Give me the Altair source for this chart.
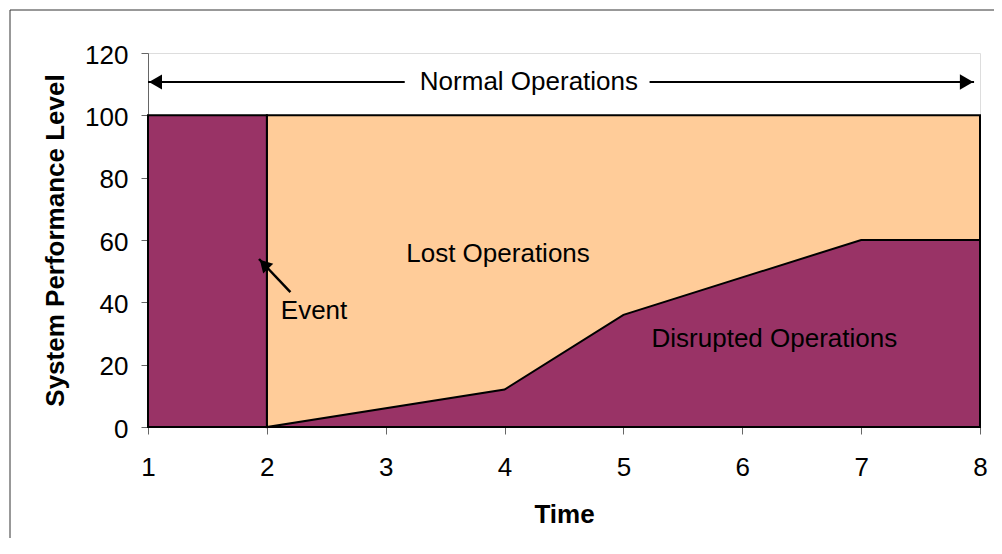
import altair as alt
import pandas as pd

# ---- data ----
time_disrupted = [1, 2, 2, 4, 5, 7, 8]
perf_disrupted = [100, 100, 0, 12, 36, 60, 60]
time_normal = [2, 8]
perf_normal = [100, 100]
x_ticks = [1, 2, 3, 4, 5, 6, 7, 8]
y_ticks = [0, 20, 40, 60, 80, 100, 120]

label_text = ["Normal Operations", "Lost Operations", "Disrupted Operations", "Event"]
label_x = [4.205, 3.945, 6.27, 2.397]
label_y = [108.1, 53.0, 25.8, 34.6]

# annotation arrows (data units)
normal_seg_x = [1.0, 5.22]
normal_seg_x2 = [3.16, 7.95]
normal_seg_y = [110.7, 110.7]
event_tail = (2.198, 43.3)
event_tip = (1.934, 53.9)

FONT = "Liberation Sans"
PURPLE = "#993366"
PEACH = "#FFCC99"
AXIS_GREY = "#666666"

x_scale = alt.Scale(domain=[1, 8], nice=False, zero=False)
y_scale = alt.Scale(domain=[0, 120], nice=False, zero=False)

df_dis = pd.DataFrame({"t": time_disrupted, "v": perf_disrupted})
df_lost = pd.DataFrame({"t": time_normal, "v": perf_normal})
df_lbl = pd.DataFrame({"t": label_x, "v": label_y, "txt": label_text})
df_seg = pd.DataFrame({"t": normal_seg_x, "t2": normal_seg_x2, "v": normal_seg_y})
df_left_head = pd.DataFrame({"t": [normal_seg_x[0]], "v": [normal_seg_y[0]]})
df_right_head = pd.DataFrame({"t": [normal_seg_x2[1]], "v": [normal_seg_y[1]]})
df_event = pd.DataFrame({"t": [event_tail[0]], "v": [event_tail[1]],
                         "t2": [event_tip[0]], "v2": [event_tip[1]]})
df_event_head = pd.DataFrame({"t": [event_tip[0]], "v": [event_tip[1]]})
df_dummy = pd.DataFrame({"a": [0]})

x_axis = alt.Axis(values=x_ticks, format="d", title="Time", grid=False,
                  tickSize=7, tickColor=AXIS_GREY, domainColor=AXIS_GREY,
                  labelFont=FONT, labelFontSize=26, labelColor="black",
                  labelPadding=20, labelFlush=False,
                  titleFont=FONT, titleFontSize=26, titleFontWeight="bold",
                  titleColor="black", titleX=416, titleY=95,
                  titleBaseline="alphabetic", titleAlign="center")
y_axis = alt.Axis(values=y_ticks, title="System Performance Level", grid=False,
                  tickSize=7, tickColor=AXIS_GREY, domainColor=AXIS_GREY,
                  labelFont=FONT, labelFontSize=26, labelColor="black",
                  labelPadding=13, labelOffset=2, labelFlush=False,
                  titleFont=FONT, titleFontSize=26, titleFontWeight="bold",
                  titleColor="black", titleAngle=270, titleX=-85, titleY=187,
                  titleBaseline="alphabetic", titleAlign="center")

lost = alt.Chart(df_lost).mark_area(
    fill=PEACH, fillOpacity=1, stroke="black", strokeWidth=2
).encode(
    x=alt.X("t:Q", scale=x_scale, axis=x_axis),
    y=alt.Y("v:Q", scale=y_scale, axis=y_axis, stack=None),
)

disrupted = alt.Chart(df_dis).mark_area(
    fill=PURPLE, fillOpacity=1, stroke="black", strokeWidth=2
).encode(
    x=alt.X("t:Q", scale=x_scale),
    y=alt.Y("v:Q", scale=y_scale, stack=None),
)

labels = alt.Chart(df_lbl).mark_text(
    font=FONT, fontSize=26, color="black", align="center", baseline="alphabetic"
).encode(
    x=alt.X("t:Q", scale=x_scale),
    y=alt.Y("v:Q", scale=y_scale),
    text="txt:N",
)

segs = alt.Chart(df_seg).mark_rule(color="black", strokeWidth=2).encode(
    x=alt.X("t:Q", scale=x_scale), x2="t2:Q",
    y=alt.Y("v:Q", scale=y_scale),
)

left_head = alt.Chart(df_left_head).mark_point(
    shape="triangle-left", filled=True, color="black", opacity=1, size=225,
    strokeWidth=0, xOffset=7.5
).encode(x=alt.X("t:Q", scale=x_scale), y=alt.Y("v:Q", scale=y_scale))

right_head = alt.Chart(df_right_head).mark_point(
    shape="triangle-right", filled=True, color="black", opacity=1, size=240,
    strokeWidth=0, xOffset=-7.5
).encode(x=alt.X("t:Q", scale=x_scale), y=alt.Y("v:Q", scale=y_scale))

event_line = alt.Chart(df_event).mark_rule(color="black", strokeWidth=2.5).encode(
    x=alt.X("t:Q", scale=x_scale), x2="t2:Q",
    y=alt.Y("v:Q", scale=y_scale), y2="v2:Q",
)

event_head = alt.Chart(df_event_head).mark_point(
    shape="triangle-up", filled=True, color="black", opacity=1, size=196,
    strokeWidth=0, angle=316, xOffset=5.0, yOffset=5.2
).encode(x=alt.X("t:Q", scale=x_scale), y=alt.Y("v:Q", scale=y_scale))

frame_left = alt.Chart(df_dummy).mark_rule(color="#333333", strokeWidth=1).encode(
    x=alt.value(-138), y=alt.value(-43), y2=alt.value(520)
)
frame_top = alt.Chart(df_dummy).mark_rule(color="#333333", strokeWidth=1).encode(
    x=alt.value(-138), x2=alt.value(900), y=alt.value(-43)
)

chart = alt.layer(
    lost, disrupted, labels, segs, left_head, right_head,
    event_line, event_head, frame_left, frame_top
).properties(
    width=832, height=374,
    autosize=alt.AutoSizeParams(type="none"),
    padding={"left": 140, "top": 45, "right": 14, "bottom": 111},
).configure_view(stroke=None).configure(background="white")

chart.save("out.html", embed_options={"renderer": "svg", "actions": False})
